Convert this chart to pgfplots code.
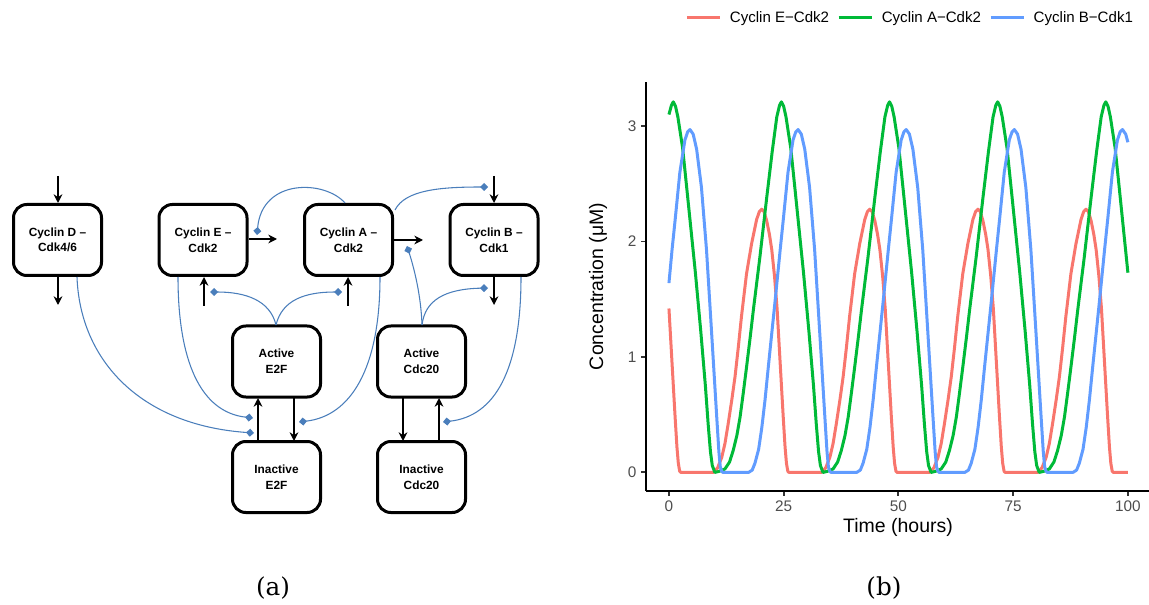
\documentclass[border=0pt]{standalone}
\usepackage{fontspec}
\setmainfont{Liberation Sans}
\newfontfamily\labelfont{DejaVu Serif}
\usepackage{pgfplots}
\pgfplotsset{compat=1.18}
\usetikzlibrary{arrows.meta}
\definecolor{cE}{HTML}{F8766D}
\definecolor{cA}{HTML}{00BA38}
\definecolor{cB}{HTML}{619CFF}
\definecolor{lnk}{RGB}{74,126,187}
\definecolor{tickgray}{HTML}{4D4D4D}
\begin{document}
\begin{tikzpicture}[x=0.75pt,y=0.75pt,
  bx/.style={draw=black, line width=2.25pt, rounded corners=10pt, minimum width=66pt, minimum height=53.25pt, inner sep=0pt, align=center, font=\bfseries\fontsize{8.9}{11.7}\selectfont},
  arr/.style={line width=1.6pt, -{Stealth[length=6.5pt,width=6.5pt]}},
  inh/.style={lnk, line width=0.8pt, -{Turned Square[length=6pt,width=6pt]}}]
% ---------------- panel (a): network diagram ----------------
\begin{scope}[yshift=453pt, yscale=-1]
  \node[bx] at (57.5,240) {Cyclin D --\\Cdk4/6};
  \node[bx] at (203,240) {Cyclin E --\\Cdk2};
  \node[bx] at (348.5,240) {Cyclin A --\\Cdk2};
  \node[bx] at (494,240) {Cyclin B --\\Cdk1};
  \node[bx] at (276.5,361.5) {Active\\E2F};
  \node[bx] at (276.5,477) {Inactive\\E2F};
  \node[bx] at (421.5,361.5) {Active\\Cdc20};
  \node[bx] at (421.5,477) {Inactive\\Cdc20};
  % black arrows
  \draw[arr] (58,176) -- (58,203);
  \draw[arr] (58,277) -- (58,305);
  \draw[arr] (249,239) -- (277,239);
  \draw[arr] (204,306) -- (204,277);
  \draw[arr] (394,240) -- (423,240);
  \draw[arr] (348,306) -- (348,277);
  \draw[arr] (494,176) -- (494,203);
  \draw[arr] (494,277) -- (494,305);
  \draw[arr] (258,441) -- (258,398);
  \draw[arr] (294,398) -- (294,441);
  \draw[arr] (403,398) -- (403,441);
  \draw[arr] (439,441) -- (439,398);
  % blue links
  \draw[inh] (77,277) .. controls (80,360) and (140,425) .. (254,433);
  \draw[inh] (178,277) .. controls (178,360) and (200,412) .. (253,418);
  \draw[inh] (380,277) .. controls (380,370) and (350,416) .. (299,422);
  \draw[inh] (521,277) .. controls (521,370) and (495,416) .. (443,422);
  \draw[inh] (276,325) .. controls (270,300) and (245,292) .. (210,292);
  \draw[inh] (276,325) .. controls (282,300) and (305,292) .. (342,292);
  \draw[inh] (422,325) .. controls (425,300) and (445,289) .. (488,288);
  \draw[inh] (422,325) .. controls (421,295) and (414,268) .. (407,246);
  \draw[inh] (345,203) .. controls (325,180) and (262,178) .. (257,235);
  \draw[inh] (395,210) .. controls (405,190) and (440,187) .. (488,187);
\end{scope}
\node[font=\labelfont\fontsize{18.5}{21}\selectfont] at (273,16) {(a)};
\node[font=\labelfont\fontsize{18.5}{21}\selectfont] at (884,16) {(b)};
% ---------------- panel (b): time courses ----------------
\begin{axis}[
  at={(484.5pt,84.75pt)}, anchor=south west,
  scale only axis, width=377.25pt, height=306.75pt,
  xmin=-5, xmax=104.6, ymin=-0.161, ymax=3.382,
  axis lines=left,
  axis line style={-, line width=1.4pt, black},
  xtick={0,25,50,75,100}, ytick={0,1,2,3},
  tick align=outside, major tick length=3.6pt,
  tick style={line width=1.4pt, black!80},
  /pgf/number format/assume math mode=true,
  ticklabel style={font=\fontsize{11.5}{13}\selectfont, text=tickgray},
  xlabel={Time (hours)}, ylabel={Concentration (μM)},
  label style={font=\fontsize{14.6}{16}\selectfont},
  xlabel style={at={(axis description cs:0.501,-0.088)}, anchor=center},
  ylabel style={at={(axis description cs:-0.0954,0.5)}, anchor=center},
  legend columns=3,
  legend style={at={(axis description cs:0.0775,1.1565)}, anchor=west, draw=none, fill=none, inner sep=0pt,
    font=\fontsize{11.3}{13}\selectfont, cells={anchor=west}, nodes={inner xsep=0pt},
    /tikz/every odd column/.append style={column sep=6.5pt},
    /tikz/every even column/.append style={column sep=6pt}},
  legend image code/.code={\draw[#1] (0pt,0pt) -- (24.75pt,0pt);},
  every axis plot/.append style={line width=2.25pt, line join=round},
]
\addplot[cE] coordinates {
(0,1.42) (0.64,0.97) (1.34,0.48) (1.74,0.22) (2.04,0.08) (2.34,0.01) (2.6,0)
(9.70,0) (10.60,0.04) (11.50,0.13) (12.20,0.25) (12.90,0.42) (13.70,0.63) (14.40,0.83) (15.10,1.08) (15.80,1.35) (16.90,1.72) (18.00,1.98) (19.10,2.19) (19.70,2.26) (20.20,2.28) (20.70,2.26) (21.30,2.18) (21.90,2.06) (22.40,1.93) (23.00,1.70) (23.56,1.42) (24.20,0.97) (24.90,0.48) (25.30,0.22) (25.60,0.08) (25.90,0.01) (26.16,0)
(33.26,0) (34.16,0.04) (35.06,0.13) (35.76,0.25) (36.46,0.42) (37.26,0.63) (37.96,0.83) (38.66,1.08) (39.36,1.35) (40.46,1.72) (41.56,1.98) (42.66,2.19) (43.26,2.26) (43.76,2.28) (44.26,2.26) (44.86,2.18) (45.46,2.06) (45.96,1.93) (46.56,1.70) (47.12,1.42) (47.76,0.97) (48.46,0.48) (48.86,0.22) (49.16,0.08) (49.46,0.01) (49.72,0)
(56.82,0) (57.72,0.04) (58.62,0.13) (59.32,0.25) (60.02,0.42) (60.82,0.63) (61.52,0.83) (62.22,1.08) (62.92,1.35) (64.02,1.72) (65.12,1.98) (66.22,2.19) (66.82,2.26) (67.32,2.28) (67.82,2.26) (68.42,2.18) (69.02,2.06) (69.52,1.93) (70.12,1.70) (70.68,1.42) (71.32,0.97) (72.02,0.48) (72.42,0.22) (72.72,0.08) (73.02,0.01) (73.28,0)
(80.38,0) (81.28,0.04) (82.18,0.13) (82.88,0.25) (83.58,0.42) (84.38,0.63) (85.08,0.83) (85.78,1.08) (86.48,1.35) (87.58,1.72) (88.68,1.98) (89.78,2.19) (90.38,2.26) (90.88,2.28) (91.38,2.26) (91.98,2.18) (92.58,2.06) (93.08,1.93) (93.68,1.70) (94.24,1.42) (94.88,0.97) (95.58,0.48) (95.98,0.22) (96.28,0.08) (96.58,0.01) (96.84,0) (100,0)
};
\addlegendentry{Cyclin E−Cdk2}
\addplot[cA] coordinates {
(0,3.10) (0.54,3.18) (0.94,3.21) (1.44,3.17) (1.94,3.08) (2.98,2.81) (3.94,2.44) (4.94,2.05) (5.76,1.73) (6.94,1.22) (7.94,0.75) (8.54,0.42) (9.04,0.18) (9.44,0.06) (10.00,0)
(11.00,0.01) (12.20,0.03) (13.20,0.09) (14.00,0.19) (14.80,0.32) (15.50,0.48) (16.20,0.69) (16.90,0.91) (17.70,1.17) (18.40,1.41) (19.80,1.86) (21.30,2.38) (22.50,2.78) (23.50,3.08) (24.10,3.18) (24.50,3.21) (25.00,3.17) (25.50,3.08) (26.54,2.81) (27.50,2.44) (28.50,2.05) (29.32,1.73) (30.50,1.22) (31.50,0.75) (32.10,0.42) (32.60,0.18) (33.00,0.06) (33.56,0)
(34.56,0.01) (35.76,0.03) (36.76,0.09) (37.56,0.19) (38.36,0.32) (39.06,0.48) (39.76,0.69) (40.46,0.91) (41.26,1.17) (41.96,1.41) (43.36,1.86) (44.86,2.38) (46.06,2.78) (47.06,3.08) (47.66,3.18) (48.06,3.21) (48.56,3.17) (49.06,3.08) (50.10,2.81) (51.06,2.44) (52.06,2.05) (52.88,1.73) (54.06,1.22) (55.06,0.75) (55.66,0.42) (56.16,0.18) (56.56,0.06) (57.12,0)
(58.12,0.01) (59.32,0.03) (60.32,0.09) (61.12,0.19) (61.92,0.32) (62.62,0.48) (63.32,0.69) (64.02,0.91) (64.82,1.17) (65.52,1.41) (66.92,1.86) (68.42,2.38) (69.62,2.78) (70.62,3.08) (71.22,3.18) (71.62,3.21) (72.12,3.17) (72.62,3.08) (73.66,2.81) (74.62,2.44) (75.62,2.05) (76.44,1.73) (77.62,1.22) (78.62,0.75) (79.22,0.42) (79.72,0.18) (80.12,0.06) (80.68,0)
(81.68,0.01) (82.88,0.03) (83.88,0.09) (84.68,0.19) (85.48,0.32) (86.18,0.48) (86.88,0.69) (87.58,0.91) (88.38,1.17) (89.08,1.41) (90.48,1.86) (91.98,2.38) (93.18,2.78) (94.18,3.08) (94.78,3.18) (95.18,3.21) (95.68,3.17) (96.18,3.08) (97.22,2.81) (98.18,2.44) (99.18,2.05) (100,1.73)
};
\addlegendentry{Cyclin A−Cdk2}
\addplot[cB] coordinates {
(0,1.64) (0.68,1.93) (1.38,2.20) (2.38,2.60) (3.48,2.88) (4.08,2.95) (4.58,2.97) (5.28,2.93) (6.03,2.80) (7.08,2.47) (8.18,1.93) (9.28,1.22) (10.38,0.50) (10.88,0.18) (11.18,0.05) (11.48,0.01) (11.75,0)
(17.34,0) (18.14,0.02) (18.74,0.08) (19.54,0.20) (20.24,0.39) (20.94,0.63) (21.64,0.91) (23.14,1.49) (24.24,1.93) (24.94,2.20) (25.94,2.60) (27.04,2.88) (27.64,2.95) (28.14,2.97) (28.84,2.93) (29.59,2.80) (30.64,2.47) (31.74,1.93) (32.84,1.22) (33.94,0.50) (34.44,0.18) (34.74,0.05) (35.04,0.01) (35.31,0)
(40.90,0) (41.70,0.02) (42.30,0.08) (43.10,0.20) (43.80,0.39) (44.50,0.63) (45.20,0.91) (46.70,1.49) (47.80,1.93) (48.50,2.20) (49.50,2.60) (50.60,2.88) (51.20,2.95) (51.70,2.97) (52.40,2.93) (53.15,2.80) (54.20,2.47) (55.30,1.93) (56.40,1.22) (57.50,0.50) (58.00,0.18) (58.30,0.05) (58.60,0.01) (58.87,0)
(64.46,0) (65.26,0.02) (65.86,0.08) (66.66,0.20) (67.36,0.39) (68.06,0.63) (68.76,0.91) (70.26,1.49) (71.36,1.93) (72.06,2.20) (73.06,2.60) (74.16,2.88) (74.76,2.95) (75.26,2.97) (75.96,2.93) (76.71,2.80) (77.76,2.47) (78.86,1.93) (79.96,1.22) (81.06,0.50) (81.56,0.18) (81.86,0.05) (82.16,0.01) (82.43,0)
(88.02,0) (88.82,0.02) (89.42,0.08) (90.22,0.20) (90.92,0.39) (91.62,0.63) (92.32,0.91) (93.82,1.49) (94.92,1.93) (95.62,2.20) (96.62,2.60) (97.72,2.88) (98.32,2.95) (98.82,2.97) (99.52,2.93) (100,2.86)
};
\addlegendentry{Cyclin B−Cdk1}
\end{axis}
\pgfresetboundingbox
\path[use as bounding box] (0,0) rectangle (1149,604);
\end{tikzpicture}
\end{document}
